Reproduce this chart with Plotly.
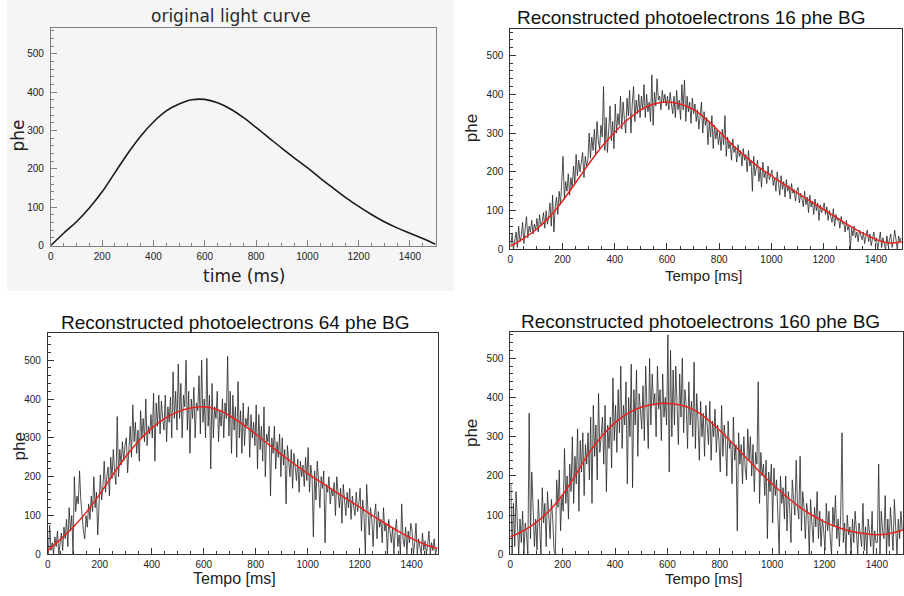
import plotly.graph_objects as go

W, H = 904, 596

# ---------------- data ----------------
t_curve = list(range(0, 1501, 50))
original_curve = [0, 32, 62, 98, 140, 190, 240, 285, 322, 351, 369, 380, 381, 372, 356, 334,
                  308, 281, 254, 228, 203, 176, 150, 125, 102, 81, 62, 46, 32, 18, 3]

fit_16 = [8, 28, 52, 84, 125, 172, 220, 265, 302, 335, 360, 375, 380, 375, 361, 336,
          304, 270, 240, 213, 190, 167, 145, 124, 103, 82, 61, 42, 26, 17, 20]
fit_64 = [10, 40, 72, 110, 155, 205, 252, 292, 325, 350, 367, 377, 380, 373, 357, 335,
          310, 283, 257, 232, 208, 186, 164, 143, 122, 100, 79, 59, 41, 26, 15]
fit_160 = [45, 60, 82, 112, 152, 203, 258, 302, 336, 360, 375, 383, 385, 381, 369, 346,
           316, 282, 247, 212, 180, 150, 123, 101, 83, 69, 59, 53, 50, 53, 62]

t_bins = list(range(2, 1500, 5))

phe_16 = [10, 40, 0, 25, 45, 5, 60, 20, 35, 70, 15, 55, 85, 30, 60, 45, 75, 40, 65, 50,
          80, 45, 90, 60, 70, 95, 55, 100, 65, 85, 120, 60, 140, 45, 110, 135, 90, 150, 115, 175,
          240, 130, 175, 150, 195, 140, 185, 160, 215, 170, 245, 190, 230, 200, 220, 250, 185, 240, 215, 230,
          300, 235, 290, 255, 310, 245, 330, 280, 260, 320, 290, 420, 255, 340, 250, 300, 370, 280, 330, 260,
          375, 300, 350, 320, 395, 310, 380, 335, 300, 390, 345, 410, 300, 375, 420, 330, 385, 350, 400, 340,
          395, 360, 425, 340, 400, 355, 380, 330, 450, 320, 405, 370, 440, 385, 395, 360, 410, 380, 400, 370,
          395, 360, 405, 375, 350, 395, 340, 410, 360, 385, 335, 425, 360, 437, 330, 395, 355, 380, 325, 390,
          350, 375, 330, 360, 310, 345, 380, 300, 355, 320, 340, 270, 330, 290, 345, 260, 320, 285, 310, 270,
          300, 255, 310, 270, 345, 240, 290, 260, 275, 230, 285, 250, 265, 225, 270, 240, 255, 215, 260, 230,
          245, 200, 255, 215, 230, 150, 240, 190, 215, 230, 175, 210, 160, 225, 185, 200, 170, 215, 180, 195,
          205, 165, 185, 150, 200, 170, 140, 190, 155, 175, 135, 180, 150, 165, 130, 170, 145, 155, 125, 150,
          160, 120, 145, 130, 110, 150, 115, 135, 95, 140, 110, 125, 90, 130, 100, 120, 75, 115, 95, 105,
          120, 90, 110, 75, 100, 85, 70, 105, 60, 90, 75, 80, 55, 85, 65, 70, 45, 75, 50, 60,
          0, 55, 35, 60, 30, 45, 20, 50, 40, 25, 45, 15, 35, 50, 20, 40, 10, 30, 45, 20,
          30, 0, 25, 45, 5, 30, 15, 0, 35, 10, 25, 40, 5, 20, 50, 15, 0, 35, 20, 30]

phe_64 = [0, 75, 10, 30, 0, 45, 20, 60, 0, 35, 55, 10, 70, 40, 90, 20, 120, 60, 100, 0,
          200, 110, 150, 130, 215, 140, 90, 60, 40, 100, 70, 130, 90, 150, 110, 200, 120, 160, 50, 140,
          205, 140, 175, 240, 160, 200, 225, 150, 250, 195, 270, 210, 180, 355, 200, 270, 230, 290, 240, 280,
          300, 210, 280, 330, 250, 385, 290, 340, 260, 320, 240, 370, 300, 350, 290, 400, 280, 330, 310, 360,
          300, 415, 240, 390, 330, 410, 310, 395, 350, 320, 410, 290, 380, 340, 405, 300, 470, 350, 420, 320,
          490, 350, 440, 300, 410, 380, 500, 320, 420, 260, 400, 350, 430, 300, 390, 370, 460, 310, 500, 340,
          400, 300, 505, 330, 410, 220, 440, 300, 380, 350, 420, 290, 370, 330, 400, 300, 390, 350, 510, 305,
          420, 260, 410, 320, 380, 250, 445, 300, 370, 260, 390, 280, 350, 330, 380, 250, 360, 300, 340, 280,
          385, 220, 360, 270, 330, 240, 380, 200, 310, 290, 330, 150, 300, 260, 330, 220, 290, 250, 310, 200,
          300, 230, 270, 130, 280, 240, 200, 270, 170, 260, 230, 190, 245, 160, 240, 200, 230, 175, 250, 190,
          275, 160, 230, 200, 45, 215, 140, 240, 190, 120, 200, 170, 215, 30, 180, 160, 200, 130, 170, 150,
          185, 100, 200, 150, 120, 170, 80, 180, 140, 100, 160, 120, 170, 90, 150, 130, 100, 160, 110, 130,
          170, 60, 140, 100, 0, 180, 110, 50, 120, 90, 20, 100, 130, 40, 110, 70, 90, 30, 120, 60,
          80, 0, 90, 50, 30, 70, 0, 60, 90, 20, 50, 0, 130, 40, 20, 70, 0, 60, 30, 80,
          60, 0, 30, 80, 0, 40, 20, 0, 55, 10, 35, 0, 25, 60, 0, 30, 10, 40, 0, 15]

phe_160 = [180, 0, 130, 20, 160, 60, 0, 90, 30, 110, 0, 80, 50, 0, 360, 40, 210, 120, 20, 90,
           10, 140, 60, 0, 170, 80, 130, 20, 160, 100, 40, 140, 90, 10, 0, 190, 120, 215, 60, 150,
           110, 270, 130, 200, 90, 230, 160, 300, 130, 250, 180, 320, 110, 290, 210, 310, 150, 280, 230, 310,
           190, 350, 130, 380, 250, 330, 190, 410, 260, 300, 350, 230, 380, 160, 330, 270, 350, 220, 450, 290,
           380, 260, 420, 310, 480, 270, 380, 330, 440, 180, 400, 300, 485, 170, 420, 330, 470, 250, 410, 370,
           320, 430, 290, 480, 350, 270, 500, 330, 460, 380, 410, 300, 480, 370, 420, 290, 460, 350, 400, 330,
           560, 210, 520, 300, 470, 330, 480, 390, 280, 460, 350, 500, 310, 420, 380, 270, 440, 330, 390, 300,
           490, 270, 410, 340, 240, 390, 300, 360, 250, 380, 330, 280, 390, 240, 340, 300, 370, 260, 330, 290,
           210, 380, 250, 330, 290, 200, 340, 270, 290, 180, 350, 240, 280, 60, 310, 230, 280, 180, 300, 220,
           190, 320, 240, 300, 200, 280, 160, 260, 230, 440, 130, 260, 200, 230, 150, 240, 40, 210, 160, 230,
           80, 220, 150, 190, 100, 0, 200, 130, 170, 90, 200, 60, 160, 120, 30, 190, 140, 100, 240, 120,
           90, 250, 60, 160, 120, 40, 130, 100, 0, 140, 80, 30, 120, 70, 160, 40, 110, 20, 90, 60,
           10, 130, 60, 110, 40, 0, 120, 70, 150, 40, 90, 20, 100, 310, 30, 80, 0, 100, 50, 70,
           0, 90, 30, 110, 60, 0, 80, 40, 20, 130, 10, 70, 0, 90, 50, 20, 110, 0, 60, 30,
           30, 230, 0, 110, 60, 40, 150, 0, 90, 20, 120, 50, 10, 140, 70, 0, 90, 40, 110, 60]

x_ticks = [0, 200, 400, 600, 800, 1000, 1200, 1400]
y_ticks = [0, 100, 200, 300, 400, 500]

titles = ["original light curve",
          "Reconstructed photoelectrons 16 phe BG",
          "Reconstructed photoelectrons 64 phe BG",
          "Reconstructed photoelectrons 160 phe BG"]
xtitles = ["time (ms)", "Tempo [ms]", "Tempo [ms]", "Tempo [ms]"]
ytitle = "phe"

# ---------------- layout helpers (pixel -> paper) ----------------
def px(x):
    return x / W

def py(y):
    return 1 - y / H

# plot-area boxes in pixels: (left, top, right, bottom)
boxes = [(48, 28, 434, 248), (509, 29, 902, 252), (45, 336, 436, 560), (509, 335, 903, 560)]
yranges = [568, 569, 571, 568]

fig = go.Figure()

noise_sets = [None, phe_16, phe_64, phe_160]
fit_sets = [None, fit_16, fit_64, fit_160]

for i in range(4):
    xa = "x" if i == 0 else f"x{i+1}"
    ya = "y" if i == 0 else f"y{i+1}"
    if i == 0:
        fig.add_trace(go.Scatter(x=t_curve, y=original_curve, mode="lines",
                                 line=dict(color="#1a1a1a", width=1.6, shape="spline", smoothing=1.0),
                                 xaxis=xa, yaxis=ya, showlegend=False, hoverinfo="skip"))
    else:
        fig.add_trace(go.Scatter(x=t_bins, y=noise_sets[i], mode="lines", line=dict(color="#262626", width=0.8),
                                 xaxis=xa, yaxis=ya, showlegend=False, hoverinfo="skip"))
        fig.add_trace(go.Scatter(x=t_curve, y=fit_sets[i], mode="lines",
                                 line=dict(color="#e8231e", width=1.5, shape="spline", smoothing=1.0),
                                 xaxis=xa, yaxis=ya, showlegend=False, hoverinfo="skip"))

layout = dict(width=W, height=H, margin=dict(l=0, r=0, t=0, b=0), paper_bgcolor="white",
              plot_bgcolor="rgba(0,0,0,0)", showlegend=False)

for i, (l, t, r, b) in enumerate(boxes):
    key = "" if i == 0 else str(i + 1)
    frame = "#808080" if i == 0 else "#333333"
    layout["xaxis" + key] = dict(domain=[px(l), px(r)], range=[0, 1500], anchor="y" + key,
                                 tickvals=x_ticks, ticks="inside", ticklen=6, tickcolor=frame,
                                 minor=dict(dtick=50, ticks="inside", ticklen=3, tickcolor=frame),
                                 showgrid=False, zeroline=False, showline=True, linecolor=frame, linewidth=1,
                                 mirror=True, tickfont=dict(family="Liberation Sans", size=10, color="#222"),
                                 ticklabelstandoff=1, fixedrange=True)
    layout["yaxis" + key] = dict(domain=[py(b), py(t)], range=[0, yranges[i]], anchor="x" + key,
                                 tickvals=y_ticks, ticks="inside", ticklen=6, tickcolor=frame,
                                 minor=dict(dtick=20, ticks="inside", ticklen=3, tickcolor=frame),
                                 showgrid=False, zeroline=False, showline=True, linecolor=frame, linewidth=1,
                                 mirror=True, tickfont=dict(family="Liberation Sans", size=10, color="#222"),
                                 ticklabelstandoff=4, fixedrange=True)

fig.update_layout(**layout)

# light grey background of first panel image
fig.add_shape(type="rect", xref="paper", yref="paper", x0=px(4), x1=px(452), y0=py(294), y1=py(0),
              fillcolor="#f4f5f4", line=dict(width=0), layer="below")

annos = []
title_pos = [(229, 16), (691, 18), (233, 326), (700, 325)]
for i, (x, y) in enumerate(title_pos):
    if i == 0:
        f = dict(family="DejaVu Sans", size=17, color="#2a2a2a")
    else:
        f = dict(family="Liberation Sans", size=19, color="#111")
    annos.append(dict(text=titles[i], x=px(x), y=py(y), xref="paper", yref="paper",
                      xanchor="center", yanchor="middle", showarrow=False, font=f))
xt_pos = [(242, 279), (703, 278), (232, 584), (703, 584)]
xt_size = [17, 15, 16, 15]
for i, (x, y) in enumerate(xt_pos):
    fam = "DejaVu Sans" if i == 0 else "Liberation Sans"
    annos.append(dict(text=xtitles[i], x=px(x), y=py(y), xref="paper", yref="paper",
                      xanchor="center", yanchor="middle", showarrow=False,
                      font=dict(family=fam, size=xt_size[i], color="#222")))
yt_pos = [(15, 137), (470, 129), (17, 451), (470, 437)]
for i, (x, y) in enumerate(yt_pos):
    fam = "DejaVu Sans" if i == 0 else "Liberation Sans"
    annos.append(dict(text=ytitle, x=px(x), y=py(y), xref="paper", yref="paper",
                      xanchor="center", yanchor="middle", showarrow=False, textangle=-90,
                      font=dict(family=fam, size=17, color="#222")))

fig.update_layout(annotations=annos)
fig.write_html("out.html", config={"displayModeBar": False},
               post_script="document.body.style.margin='0';document.body.style.overflow='hidden';")
